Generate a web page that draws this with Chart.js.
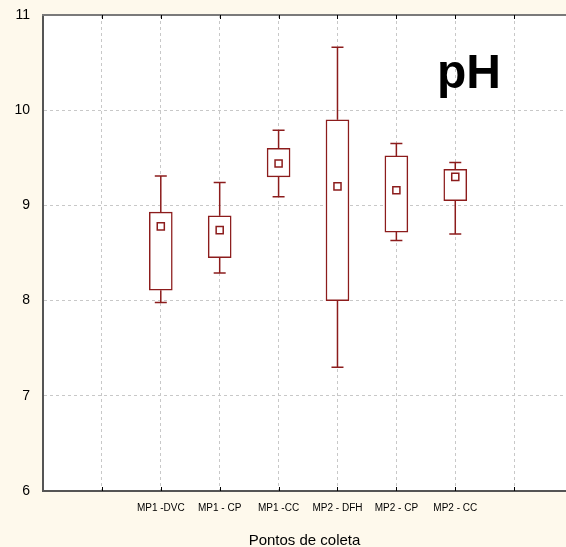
<!DOCTYPE html>
<html>
<head>
<meta charset="utf-8">
<script src="https://cdn.jsdelivr.net/npm/chart.js@4.4.1/dist/chart.umd.min.js"></script>
<style>
  html, body { margin: 0; padding: 0; background: #fef9ec; overflow: hidden; }
  canvas { display: block; }
</style>
</head>
<body>
<canvas id="boxChart" width="566" height="547"></canvas>
<script>
// Data
const categories = ['MP1 -DVC', 'MP1 - CP', 'MP1 -CC', 'MP2 - DFH', 'MP2 - CP', 'MP2 - CC'];
const positions  = [2, 3, 4, 5, 6, 7];
const whiskerMax = [9.31, 9.24, 9.79, 10.66, 9.65, 9.45];
const boxTop     = [8.93, 8.89, 9.60, 9.90, 9.52, 9.38];
const means      = [8.78, 8.74, 9.44, 9.20, 9.16, 9.30];
const boxBottom  = [8.11, 8.45, 9.30, 8.00, 8.72, 9.05];
const whiskerMin = [7.98, 8.29, 9.09, 7.30, 8.63, 8.70];
const yTicks = [6, 7, 8, 9, 10, 11];

const RED = '#8c1c1c';

Chart.defaults.font.family = '"Liberation Sans", Arial, sans-serif';
Chart.defaults.color = '#000';

function noPadding(scale) {
  scale.paddingLeft = 0;
  scale.paddingRight = 0;
  scale.paddingTop = 0;
  scale.paddingBottom = 0;
}

// backgrounds, whiskers, frame and the "pH" label
const framePlugin = {
  id: 'frame',
  beforeDraw(chart) {
    const { ctx, chartArea: a } = chart;
    ctx.save();
    ctx.fillStyle = '#fef9ec';
    ctx.fillRect(0, 0, chart.width, chart.height);
    ctx.fillStyle = '#ffffff';
    ctx.fillRect(a.left, a.top, a.right - a.left, a.bottom - a.top);
    ctx.restore();
  },
  afterDatasetsDraw(chart) {
    const { ctx } = chart;
    const xs = chart.scales.x, ys = chart.scales.y;
    ctx.save();
    ctx.strokeStyle = RED;
    ctx.lineWidth = 1.5;
    positions.forEach((p, i) => {
      const x = xs.getPixelForValue(p);
      const yMax = ys.getPixelForValue(whiskerMax[i]);
      const yTop = ys.getPixelForValue(boxTop[i]);
      const yBot = ys.getPixelForValue(boxBottom[i]);
      const yMin = ys.getPixelForValue(whiskerMin[i]);
      ctx.beginPath();
      ctx.moveTo(x, yMax); ctx.lineTo(x, yTop);
      ctx.moveTo(x, yBot); ctx.lineTo(x, yMin);
      ctx.moveTo(x - 6, yMax); ctx.lineTo(x + 6, yMax);
      ctx.moveTo(x - 6, yMin); ctx.lineTo(x + 6, yMin);
      ctx.stroke();
    });
    ctx.restore();
  },
  afterDraw(chart) {
    const { ctx, chartArea: a } = chart;
    const xs = chart.scales.x;
    ctx.save();
    // top border
    ctx.strokeStyle = '#7a7a7a';
    ctx.lineWidth = 2;
    ctx.beginPath();
    ctx.moveTo(a.left - 1, a.top);
    ctx.lineTo(a.right, a.top);
    ctx.stroke();
    // small inside ticks
    ctx.strokeStyle = '#000';
    ctx.lineWidth = 1;
    ctx.beginPath();
    xs.ticks.forEach(t => {
      if (t.value <= 0) return;
      const x = Math.round(xs.getPixelForValue(t.value)) + 0.5;
      ctx.moveTo(x, a.bottom); ctx.lineTo(x, a.bottom - 4);
      ctx.moveTo(x, a.top); ctx.lineTo(x, a.top + 4);
    });
    ctx.stroke();
    // title inside plot
    ctx.fillStyle = '#000';
    ctx.font = 'bold 48px "Liberation Sans", Arial, sans-serif';
    ctx.textBaseline = 'alphabetic';
    ctx.textAlign = 'left';
    ctx.fillText('pH', 437, 88);
    ctx.restore();
  }
};

new Chart(document.getElementById('boxChart'), {
  type: 'bar',
  data: {
    datasets: [
      {
        type: 'bar',
        label: 'box',
        data: positions.map((p, i) => ({ x: p, y: [boxBottom[i], boxTop[i]] })),
        backgroundColor: '#ffffff',
        borderColor: RED,
        borderWidth: 1.5,
        borderSkipped: false,
        barThickness: 23,
        order: 2
      },
      {
        type: 'scatter',
        label: 'mean',
        data: positions.map((p, i) => ({ x: p, y: means[i] })),
        pointStyle: 'rect',
        pointRadius: 5,
        pointBackgroundColor: '#ffffff',
        pointBorderColor: RED,
        pointBorderWidth: 1.5,
        order: 1
      }
    ]
  },
  options: {
    responsive: false,
    devicePixelRatio: 1,
    animation: false,
    layout: { autoPadding: false, padding: { top: 15, right: 0, left: 0, bottom: 0 } },
    plugins: {
      legend: { display: false },
      tooltip: { enabled: false },
      title: { display: false }
    },
    scales: {
      x: {
        type: 'linear',
        min: 0,
        max: 8.88,
        offset: false,
        grid: { color: '#c8c8c8', lineWidth: 1, drawTicks: false, offset: false },
        border: { display: true, color: '#555', width: 2, dash: [3, 3] },
        ticks: {
          stepSize: 1,
          includeBounds: false,
          autoSkip: false,
          maxRotation: 0,
          padding: 11,
          font: { size: 10 },
          callback: v => {
            const i = positions.indexOf(v);
            return i >= 0 ? categories[i] : '';
          }
        },
        title: {
          display: true,
          text: 'Pontos de coleta',
          font: { size: 15 },
          padding: { top: 0, bottom: -3 }
        },
        afterFit(scale) { scale.height = 56; noPadding(scale); }
      },
      y: {
        type: 'linear',
        min: yTicks[0],
        max: yTicks[yTicks.length - 1],
        grid: { color: '#c8c8c8', lineWidth: 1, drawTicks: false },
        border: { display: true, color: '#555', width: 2, dash: [3, 3] },
        ticks: {
          stepSize: 1,
          padding: 13,
          font: { size: 14 }
        },
        afterFit(scale) { scale.width = 43; noPadding(scale); }
      }
    }
  },
  plugins: [framePlugin]
});
</script>
</body>
</html>
